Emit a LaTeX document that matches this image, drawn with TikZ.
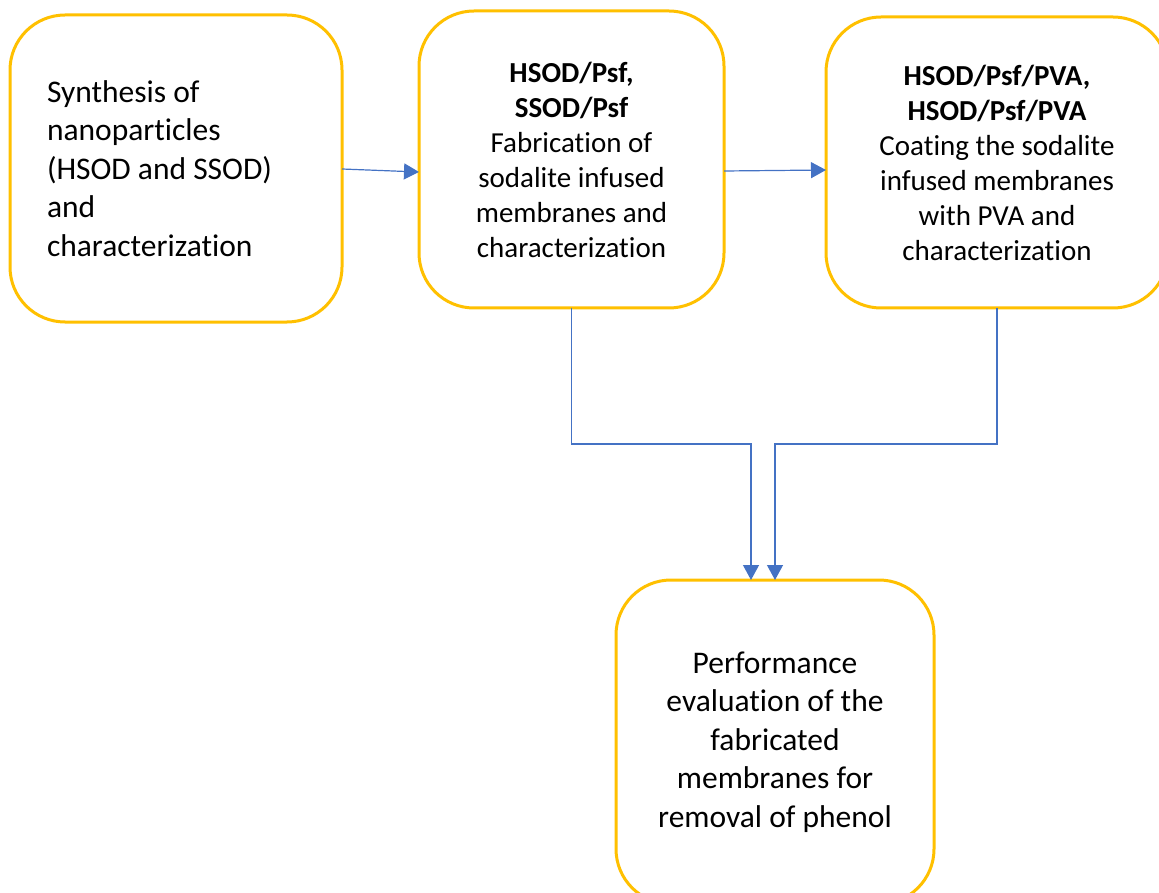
\documentclass[tikz,border=0pt]{standalone}
\usepackage{fontspec}
\setmainfont{Carlito}[Ligatures=NoCommon]
\usetikzlibrary{arrows.meta, positioning}
\definecolor{boxline}{HTML}{FFC000}
\definecolor{flowblue}{HTML}{4472C4}

\begin{document}
\begin{tikzpicture}[x=1pt, y=-1pt]
    \tikzset{
      stage/.style={rectangle, draw=boxline, line width=3pt, fill=white,
        rounded corners=55pt, outer sep=0pt, align=center},
      bigtext/.style={font=\fontsize{31.5}{38.5}\selectfont},
      smalltext/.style={font=\fontsize{29}{35}\selectfont},
      arrow/.style={draw=flowblue, line width=1.2pt, -{Triangle[length=15pt, width=16pt]}}
    }
    \clip (0,0) rectangle (1159,893);
    \node[stage, bigtext, minimum width=332pt, minimum height=307pt,
      text width=258pt, inner xsep=37pt, align=flush left] (synth) at (176,168.5)
      {Synthesis of\\ nanoparticles\\ (HSOD and SSOD)\\ and\\ characterization};
    \node[stage, smalltext, minimum width=305pt, minimum height=297pt] (fab) at (571.5,159.5)
      {\textbf{HSOD/Psf,}\\ \textbf{SSOD/Psf}\\ Fabrication of\\ sodalite infused\\ membranes and\\ characterization};
    \node[stage, smalltext, minimum width=342pt, minimum height=291pt] (coat) at (997,162.5)
      {\textbf{HSOD/Psf/PVA,}\\ \textbf{HSOD/Psf/PVA}\\ Coating the sodalite\\ infused membranes\\ with PVA and\\ characterization};
    \node[stage, bigtext, minimum width=318pt, minimum height=324pt] (perf) at (775,742)
      {Performance\\ evaluation of the\\ fabricated\\ membranes for\\ removal of phenol};
    \draw[arrow] ([yshift=-0.5pt]synth.east) -- ([yshift=-12.5pt]fab.west);
    \draw[arrow] ([yshift=-11.5pt]fab.east) -- ([yshift=-7.5pt]coat.west);
    \draw[arrow] (fab.south) -- ++(0,136) -| ([xshift=-24pt]perf.north);
    \draw[arrow] (coat.south) -- ++(0,136) -| (perf.north);
  \end{tikzpicture}
\end{document}
